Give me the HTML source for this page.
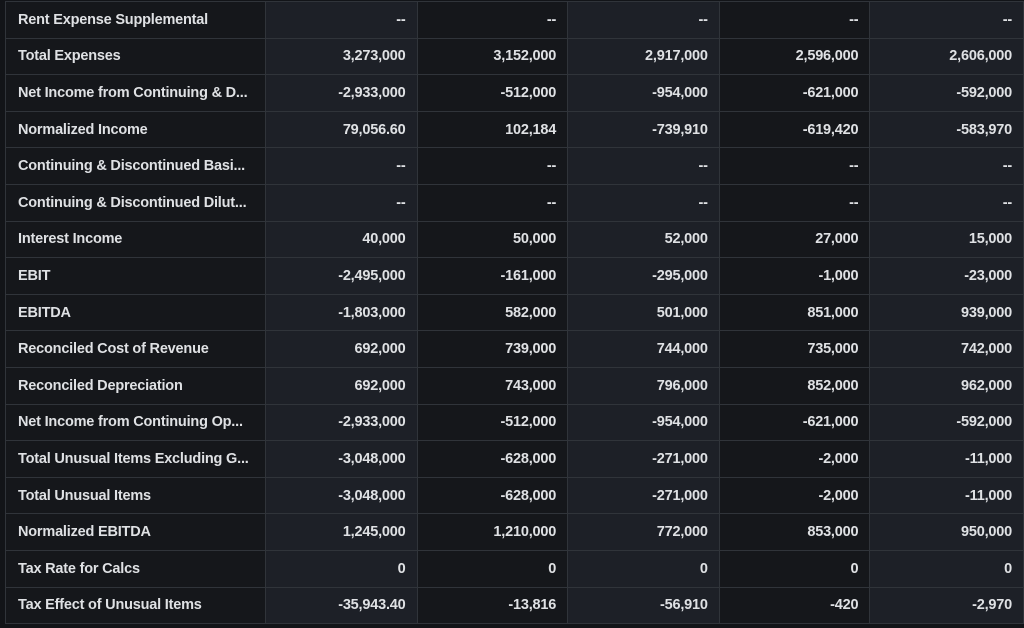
<!DOCTYPE html>
<html><head><style>
body{margin:0;width:1024px;height:628px;background:#121418;overflow:hidden;font-family:"Liberation Sans",sans-serif;}
table{position:absolute;left:5px;top:1px;border-collapse:collapse;table-layout:fixed;}
td{height:35.6px;border:1px solid #30343a;padding:0;font-size:14.5px;font-weight:bold;color:#dfe1e4;white-space:nowrap;letter-spacing:-0.2px}
td.l{width:247px;padding-left:12px;background:#15171b}
td.n{text-align:right;padding-right:11px}
.a{background:#1d2027;width:140px}
.b{background:#15171b;width:139px}
.c{width:142px}
</style></head><body>
<table>
<tbody>
<tr><td class="l">Rent Expense Supplemental</td><td class="n a">--</td><td class="n b">--</td><td class="n a">--</td><td class="n b">--</td><td class="n a c">--</td></tr>
<tr><td class="l">Total Expenses</td><td class="n a">3,273,000</td><td class="n b">3,152,000</td><td class="n a">2,917,000</td><td class="n b">2,596,000</td><td class="n a c">2,606,000</td></tr>
<tr><td class="l">Net Income from Continuing &amp; D...</td><td class="n a">-2,933,000</td><td class="n b">-512,000</td><td class="n a">-954,000</td><td class="n b">-621,000</td><td class="n a c">-592,000</td></tr>
<tr><td class="l">Normalized Income</td><td class="n a">79,056.60</td><td class="n b">102,184</td><td class="n a">-739,910</td><td class="n b">-619,420</td><td class="n a c">-583,970</td></tr>
<tr><td class="l">Continuing &amp; Discontinued Basi...</td><td class="n a">--</td><td class="n b">--</td><td class="n a">--</td><td class="n b">--</td><td class="n a c">--</td></tr>
<tr><td class="l">Continuing &amp; Discontinued Dilut...</td><td class="n a">--</td><td class="n b">--</td><td class="n a">--</td><td class="n b">--</td><td class="n a c">--</td></tr>
<tr><td class="l">Interest Income</td><td class="n a">40,000</td><td class="n b">50,000</td><td class="n a">52,000</td><td class="n b">27,000</td><td class="n a c">15,000</td></tr>
<tr><td class="l">EBIT</td><td class="n a">-2,495,000</td><td class="n b">-161,000</td><td class="n a">-295,000</td><td class="n b">-1,000</td><td class="n a c">-23,000</td></tr>
<tr><td class="l">EBITDA</td><td class="n a">-1,803,000</td><td class="n b">582,000</td><td class="n a">501,000</td><td class="n b">851,000</td><td class="n a c">939,000</td></tr>
<tr><td class="l">Reconciled Cost of Revenue</td><td class="n a">692,000</td><td class="n b">739,000</td><td class="n a">744,000</td><td class="n b">735,000</td><td class="n a c">742,000</td></tr>
<tr><td class="l">Reconciled Depreciation</td><td class="n a">692,000</td><td class="n b">743,000</td><td class="n a">796,000</td><td class="n b">852,000</td><td class="n a c">962,000</td></tr>
<tr><td class="l">Net Income from Continuing Op...</td><td class="n a">-2,933,000</td><td class="n b">-512,000</td><td class="n a">-954,000</td><td class="n b">-621,000</td><td class="n a c">-592,000</td></tr>
<tr><td class="l">Total Unusual Items Excluding G...</td><td class="n a">-3,048,000</td><td class="n b">-628,000</td><td class="n a">-271,000</td><td class="n b">-2,000</td><td class="n a c">-11,000</td></tr>
<tr><td class="l">Total Unusual Items</td><td class="n a">-3,048,000</td><td class="n b">-628,000</td><td class="n a">-271,000</td><td class="n b">-2,000</td><td class="n a c">-11,000</td></tr>
<tr><td class="l">Normalized EBITDA</td><td class="n a">1,245,000</td><td class="n b">1,210,000</td><td class="n a">772,000</td><td class="n b">853,000</td><td class="n a c">950,000</td></tr>
<tr><td class="l">Tax Rate for Calcs</td><td class="n a">0</td><td class="n b">0</td><td class="n a">0</td><td class="n b">0</td><td class="n a c">0</td></tr>
<tr><td class="l">Tax Effect of Unusual Items</td><td class="n a">-35,943.40</td><td class="n b">-13,816</td><td class="n a">-56,910</td><td class="n b">-420</td><td class="n a c">-2,970</td></tr>
</tbody></table>
</body></html>
